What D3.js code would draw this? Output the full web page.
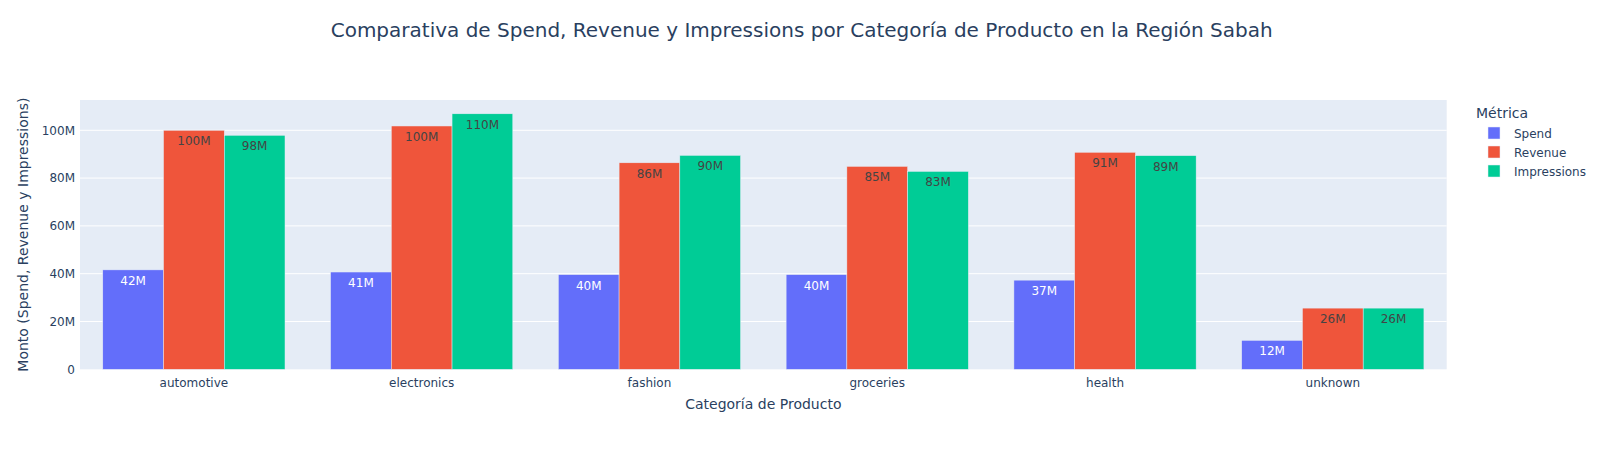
<!DOCTYPE html>
<html><head><meta charset="utf-8">
<script src="https://cdn.jsdelivr.net/npm/d3@7"></script>
<style>body{margin:0;background:#fff}svg{display:block}text{font-family:"DejaVu Sans",verdana,arial,sans-serif}</style>
</head><body>
<script>
const categories = ["automotive","electronics","fashion","groceries","health","unknown"];
const seriesNames = ["Spend","Revenue","Impressions"];
const spend = [41.6e6, 40.7e6, 39.6e6, 39.6e6, 37.3e6, 12.1e6];
const revenue = [100.0e6, 101.8e6, 86.4e6, 84.9e6, 90.8e6, 25.6e6];
const impressions = [97.9e6, 106.9e6, 89.5e6, 82.8e6, 89.4e6, 25.6e6];
const colors = ["#636efa","#EF553B","#00cc96"];
const yTicks = [0, 20e6, 40e6, 60e6, 80e6, 100e6];

const W = 1605, H = 450;
const m = {l:80, r:158.3, t:100, b:80.7};
const pw = W - m.l - m.r, ph = H - m.t - m.b;
const svg = d3.select("body").append("svg").attr("width",W).attr("height",H);

const allVals = spend.concat(revenue, impressions);
const yMax = d3.max(allVals) * 1.054;
const x = d3.scaleBand().domain(categories).range([m.l, m.l+pw]).paddingInner(0.2).paddingOuter(0.1);
const xs = d3.scaleBand().domain(seriesNames).range([0, x.bandwidth()]);
const y = d3.scaleLinear().domain([0, yMax]).range([m.t+ph, m.t]);

svg.append("rect").attr("x",m.l).attr("y",m.t).attr("width",pw).attr("height",ph).attr("fill","#E5ECF6");

svg.append("g").selectAll("line").data(yTicks.slice(1)).join("line")
  .attr("x1",m.l).attr("x2",m.l+pw).attr("y1",d=>y(d)).attr("y2",d=>y(d))
  .attr("stroke","#fff").attr("stroke-width",1);

const yAxis = d3.axisLeft(y).tickValues(yTicks).tickSize(0).tickPadding(3)
  .tickFormat(d => d===0 ? "0" : d3.format("~s")(d));
const gy = svg.append("g").attr("transform",`translate(${m.l-2},0)`).call(yAxis);
gy.select(".domain").remove();
gy.selectAll("text").attr("fill","#2a3f5f").style("font-size","12px").style("font-family",null);
gy.attr("font-family",null);

const xAxis = d3.axisBottom(x).tickSize(0).tickPadding(9);
const gx = svg.append("g").attr("transform",`translate(0,${m.t+ph})`).call(xAxis);
gx.select(".domain").remove();
gx.attr("font-family",null);
gx.selectAll("text").attr("fill","#2a3f5f").style("font-size","12px");

const series = [spend, revenue, impressions];
const data = [];
categories.forEach((c,i)=>series.forEach((s,j)=>data.push({c, name:seriesNames[j], v:s[i], j})));

const bars = svg.append("g");
bars.selectAll("rect").data(data).join("rect")
  .attr("x",d=>x(d.c)+xs(d.name)).attr("width",xs.bandwidth())
  .attr("y",d=>y(d.v)).attr("height",d=>y(0)-y(d.v))
  .attr("fill",d=>colors[d.j]).attr("stroke","#E5ECF6").attr("stroke-width",0.5);

bars.selectAll("text").data(data).join("text")
  .attr("x",d=>x(d.c)+xs(d.name)+xs.bandwidth()/2)
  .attr("y",d=>y(d.v)+15)
  .attr("text-anchor","middle").style("font-size","12px")
  .attr("fill",d=>d.j===0?"#fff":"#444")
  .text(d=>d3.format(".2s")(d.v));

svg.append("text").attr("x",801.7).attr("y",36.7).attr("text-anchor","middle")
  .attr("fill","#2a3f5f").style("font-size","20px")
  .text("Comparativa de Spend, Revenue y Impressions por Categoría de Producto en la Región Sabah");
svg.append("text").attr("x",m.l+pw/2).attr("y",409.3).attr("text-anchor","middle")
  .attr("fill","#2a3f5f").style("font-size","14px").text("Categoría de Producto");
svg.append("text").attr("transform",`translate(28,${m.t+ph/2}) rotate(-90)`).attr("text-anchor","middle")
  .attr("fill","#2a3f5f").style("font-size","14px").text("Monto (Spend, Revenue y Impressions)");

const lg = svg.append("g").attr("transform","translate(1476,0)");
lg.append("text").attr("x",0).attr("y",117.5).attr("fill","#2a3f5f").style("font-size","14px").text("Métrica");
const items = lg.selectAll("g.item").data(seriesNames).join("g").attr("class","item")
  .attr("transform",(d,i)=>`translate(0,${133+i*19})`);
items.append("rect").attr("x",12).attr("y",-6).attr("width",12).attr("height",12)
  .attr("fill",(d,i)=>colors[i]).attr("stroke","#E5ECF6").attr("stroke-width",0.5);
items.append("text").attr("x",38).attr("y",4.5).attr("fill","#2a3f5f").style("font-size","12px").text(d=>d);
</script>
</body></html>
